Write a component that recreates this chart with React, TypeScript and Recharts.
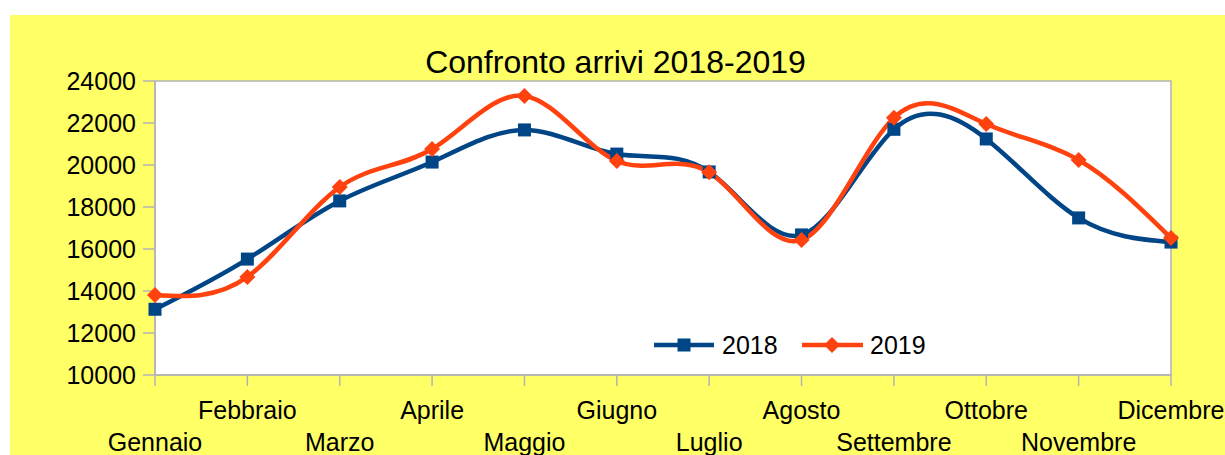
import React from "react";
import { LineChart, Line, XAxis, YAxis, ReferenceArea } from "recharts";

const months = [
  "Gennaio",
  "Febbraio",
  "Marzo",
  "Aprile",
  "Maggio",
  "Giugno",
  "Luglio",
  "Agosto",
  "Settembre",
  "Ottobre",
  "Novembre",
  "Dicembre",
];
const arrivi2018 = [13130, 15520, 18290, 20140, 21670, 20520, 19670, 16670, 21700, 21240, 17480, 16330];
const arrivi2019 = [13810, 14670, 18950, 20760, 23290, 20190, 19650, 16430, 22250, 21950, 20240, 16520];
const yTicks = [10000, 12000, 14000, 16000, 18000, 20000, 22000, 24000];
const seriesNames = ["2018", "2019"];

const data = months.map((m, i) => ({
  mese: m,
  "2018": arrivi2018[i],
  "2019": arrivi2019[i],
}));

const FONT = '"Liberation Sans", Arial, sans-serif';
const BLUE = "#004586";
const ORANGE = "#ff420e";
const AXIS = "#b3b3b3";

const SquareDot = (props: any) => {
  const { cx, cy } = props;
  if (cx == null || cy == null) return null;
  return <rect x={cx - 6.5} y={cy - 6.5} width={13} height={13} fill={BLUE} />;
};

const DiamondDot = (props: any) => {
  const { cx, cy } = props;
  if (cx == null || cy == null) return null;
  const r = 8;
  return (
    <polygon
      points={`${cx},${cy - r} ${cx + r},${cy} ${cx},${cy + r} ${cx - r},${cy}`}
      fill={ORANGE}
    />
  );
};

const MonthTick = (props: any) => {
  const { x, y, payload, index } = props;
  const dy = index % 2 === 1 ? 31 : 63;
  return (
    <text
      x={x}
      y={y + dy}
      textAnchor="middle"
      fontSize={25}
      fontFamily={FONT}
      fill="#000"
    >
      {payload.value}
    </text>
  );
};

// legenda disegnata a mano, dentro l'area del grafico
const ChartLegend = () => (
  <svg
    width={300}
    height={40}
    style={{ position: "absolute", left: 640, top: 315 }}
  >
    <line x1={4} y1={15} x2={64} y2={15} stroke={BLUE} strokeWidth={4.5} />
    <rect x={27.5} y={8.5} width={13} height={13} fill={BLUE} />
    <text x={72} y={24} fontSize={25} fontFamily={FONT} fill="#000">
      {seriesNames[0]}
    </text>
    <line x1={152} y1={15} x2={213} y2={15} stroke={ORANGE} strokeWidth={4.5} />
    <polygon points="182,7 190,15 182,23 174,15" fill={ORANGE} />
    <text x={220} y={24} fontSize={25} fontFamily={FONT} fill="#000">
      {seriesNames[1]}
    </text>
  </svg>
);

export default function App() {
  return (
    <div
      style={{
        position: "absolute",
        left: 10,
        top: 15,
        width: 1215,
        height: 440,
        background: "#ffff66",
        fontFamily: FONT,
      }}
    >
      <div
        style={{
          position: "absolute",
          top: 31,
          left: -2,
          width: 1215,
          textAlign: "center",
          fontSize: 32,
          lineHeight: "32px",
          color: "#000",
        }}
      >
        Confronto arrivi 2018-2019
      </div>
      <LineChart
        width={1215}
        height={440}
        data={data}
        margin={{ top: 66, right: 54, left: 0, bottom: 0 }}
        style={{ position: "absolute", left: 0, top: 0 }}
      >
        <ReferenceArea
          x1="Gennaio"
          x2="Dicembre"
          y1={10000}
          y2={24000}
          fill="#ffffff"
          fillOpacity={1}
          stroke={AXIS}
          strokeWidth={1.5}
        />
        <XAxis
          dataKey="mese"
          interval={0}
          height={80}
          tickSize={11}
          tickMargin={2}
          stroke={AXIS}
          strokeWidth={1.5}
          tickLine={{ stroke: AXIS, strokeWidth: 1.5 }}
          tick={<MonthTick />}
        />
        <YAxis
          width={145}
          domain={[10000, 24000]}
          ticks={yTicks}
          interval={0}
          tickSize={12}
          tickMargin={7}
          stroke={AXIS}
          strokeWidth={1.5}
          tickLine={{ stroke: AXIS, strokeWidth: 1.5 }}
          tick={{ fontSize: 25, fontFamily: FONT, fill: "#000" }}
        />
        <Line
          type="natural"
          dataKey="2018"
          stroke={BLUE}
          strokeWidth={4.5}
          dot={<SquareDot />}
          activeDot={false}
          isAnimationActive={false}
        />
        <Line
          type="natural"
          dataKey="2019"
          stroke={ORANGE}
          strokeWidth={4.5}
          dot={<DiamondDot />}
          activeDot={false}
          isAnimationActive={false}
        />
      </LineChart>
      <ChartLegend />
    </div>
  );
}
